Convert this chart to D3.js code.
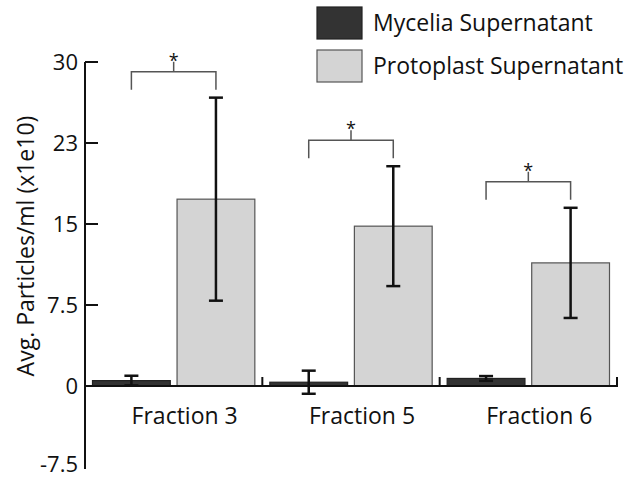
<!DOCTYPE html>
<html>
<head>
<meta charset="utf-8">
<script src="https://cdn.jsdelivr.net/npm/d3@7"></script>
<style>
  body { margin: 0; background: #fff; }
  text { font-family: "Open Sans", sans-serif; fill: #111; }
</style>
</head>
<body>
<svg width="626" height="479"></svg>
<script>
var fractions = ["Fraction 3", "Fraction 5", "Fraction 6"];
var series = ["Mycelia Supernatant", "Protoplast Supernatant"];
var myceliaMean = [0.5, 0.35, 0.7];
var myceliaErr = [0.45, 1.07, 0.22];
var protoplastMean = [17.3, 14.8, 11.4];
var protoplastErr = [9.4, 5.55, 5.1];
var yTicks = [30, 22.5, 15, 7.5, 0, -7.5];
var yTickLabels = ["30", "23", "15", "7.5", "0", "-7.5"];
var significant = ["*", "*", "*"];

var colors = ["#333333", "#d4d4d4"];
var strokes = ["#222222", "#555555"];

var rows = fractions.map(function(f, i) {
  return {
    name: f,
    values: [
      { key: series[0], mean: myceliaMean[i], err: myceliaErr[i] },
      { key: series[1], mean: protoplastMean[i], err: protoplastErr[i] }
    ],
    star: significant[i]
  };
});

var svg = d3.select("svg");

var x0 = d3.scaleBand()
  .domain(fractions)
  .range([85, 617]);

var x1 = d3.scaleBand()
  .domain(series)
  .range([7.5, x0.bandwidth() - 7.5])
  .paddingInner(0.08);

var y = d3.scaleLinear()
  .domain([-7.5, 30])
  .range([467, 62]);

// y axis, ticks pointing inward
var yAxis = svg.append("g").attr("class", "y-axis");
yAxis.append("line")
  .attr("x1", 85).attr("x2", 85)
  .attr("y1", y(30)).attr("y2", y(-7.5) + 2)
  .attr("stroke", "#111").attr("stroke-width", 2);
yAxis.selectAll("line.tick")
  .data(yTicks.filter(function(d) { return d > -7.5; }))
  .enter()
  .append("line")
  .attr("class", "tick")
  .attr("x1", 85).attr("x2", 98)
  .attr("y1", function(d) { return y(d); })
  .attr("y2", function(d) { return y(d); })
  .attr("stroke", "#111").attr("stroke-width", 2);
yAxis.selectAll("text")
  .data(yTicks)
  .enter()
  .append("text")
  .attr("x", 78)
  .attr("y", function(d) { return d === -7.5 ? y(d) - 3 : y(d); }) // keep last label inside the frame
  .attr("dy", "0.36em")
  .attr("text-anchor", "end")
  .style("font-size", "22px")
  .text(function(d, i) { return yTickLabels[i]; });

svg.append("text")
  .attr("transform", "translate(34," + 246 + ") rotate(-90)")
  .attr("text-anchor", "middle")
  .style("font-size", "23px")
  .text("Avg. Particles/ml (x1e10)");

// bars
var groups = svg.selectAll("g.group")
  .data(rows)
  .enter()
  .append("g")
  .attr("class", "group")
  .attr("transform", function(d) { return "translate(" + x0(d.name) + ",0)"; });

groups.selectAll("rect")
  .data(function(d) { return d.values; })
  .enter()
  .append("rect")
  .attr("x", function(d) { return x1(d.key); })
  .attr("width", x1.bandwidth())
  .attr("y", function(d) { return y(d.mean); })
  .attr("height", function(d) { return y(0) - y(d.mean); })
  .attr("fill", function(d, i) { return colors[i]; })
  .attr("stroke", function(d, i) { return strokes[i]; })
  .attr("stroke-width", 1.2);

// baseline and group separators
svg.append("line")
  .attr("x1", 85).attr("x2", 618)
  .attr("y1", y(0)).attr("y2", y(0))
  .attr("stroke", "#111").attr("stroke-width", 2);
svg.selectAll("line.sep")
  .data(fractions)
  .enter()
  .append("line")
  .attr("class", "sep")
  .attr("x1", function(d) { return x0(d) + x0.bandwidth(); })
  .attr("x2", function(d) { return x0(d) + x0.bandwidth(); })
  .attr("y1", y(0)).attr("y2", y(0) - 9)
  .attr("stroke", "#111").attr("stroke-width", 2);

// error bars
var errs = groups.selectAll("g.err")
  .data(function(d) { return d.values; })
  .enter()
  .append("g")
  .attr("class", "err")
  .attr("transform", function(d) { return "translate(" + (x1(d.key) + x1.bandwidth() / 2) + ",0)"; });
errs.append("line")
  .attr("x1", 0).attr("x2", 0)
  .attr("y1", function(d) { return y(d.mean + d.err); })
  .attr("y2", function(d) { return y(d.mean - d.err); })
  .attr("stroke", "#111").attr("stroke-width", 2.5);
errs.append("line")
  .attr("x1", -7).attr("x2", 7)
  .attr("y1", function(d) { return y(d.mean + d.err); })
  .attr("y2", function(d) { return y(d.mean + d.err); })
  .attr("stroke", "#111").attr("stroke-width", 2.5);
errs.append("line")
  .attr("x1", -7).attr("x2", 7)
  .attr("y1", function(d) { return y(d.mean - d.err); })
  .attr("y2", function(d) { return y(d.mean - d.err); })
  .attr("stroke", "#111").attr("stroke-width", 2.5);

// significance brackets
var brackets = groups.append("g").attr("class", "bracket");
brackets.append("path")
  .attr("d", function(d) {
    var top = d3.max(d.values, function(v) { return v.mean + v.err; });
    var yb = y(top) - 8, yt = yb - 18;
    var xa = x1(series[0]) + x1.bandwidth() / 2;
    var xb = x1(series[1]) + x1.bandwidth() / 2;
    var xm = (xa + xb) / 2;
    return "M" + xa + "," + yb + "V" + yt + "H" + xb + "V" + yb +
      "M" + xm + "," + yt + "V" + (yt - 10);
  })
  .attr("fill", "none")
  .attr("stroke", "#555")
  .attr("stroke-width", 1.5);
brackets.append("text")
  .attr("x", function(d) { return (x1(series[0]) + x1(series[1]) + x1.bandwidth()) / 2; })
  .attr("y", function(d) {
    var top = d3.max(d.values, function(v) { return v.mean + v.err; });
    return y(top) - 8 - 18 - 10 + 5;
  })
  .attr("text-anchor", "middle")
  .style("font-size", "18px")
  .text(function(d) { return d.star; });

// x labels
svg.selectAll("text.xlabel")
  .data(fractions)
  .enter()
  .append("text")
  .attr("class", "xlabel")
  .attr("x", function(d) { return x0(d) + x0.bandwidth() / 2 + 11; })
  .attr("y", 424)
  .attr("text-anchor", "middle")
  .style("font-size", "23px")
  .text(function(d) { return d; });

// legend
var legend = svg.selectAll("g.legend")
  .data(series)
  .enter()
  .append("g")
  .attr("class", "legend")
  .attr("transform", function(d, i) { return "translate(317," + (7 + i * 43) + ")"; });
legend.append("rect")
  .attr("width", 45).attr("height", 32)
  .attr("fill", function(d, i) { return colors[i]; })
  .attr("stroke", function(d, i) { return strokes[i]; })
  .attr("stroke-width", 1.2);
legend.append("text")
  .attr("x", 56)
  .attr("y", 16)
  .attr("dy", "0.36em")
  .style("font-size", "23px")
  .text(function(d) { return d; });
</script>
</body>
</html>
